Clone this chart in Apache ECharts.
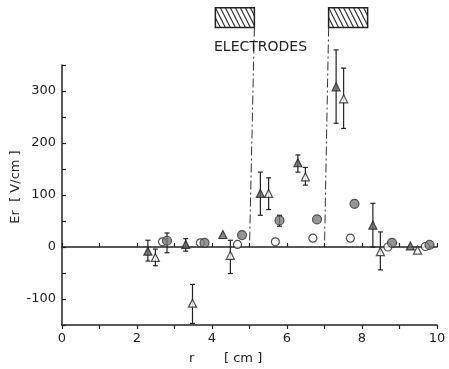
<!DOCTYPE html>
<html>
<head>
<meta charset="utf-8">
<style>
  html, body { margin: 0; padding: 0; background: #fff; }
  #chart { width: 449px; height: 369px; }
</style>
<script src="https://cdn.jsdelivr.net/npm/echarts@6/dist/echarts.min.js"></script>
</head>
<body>
<div id="chart"></div>
<script>
// r [cm], Er [V/cm]
const triFilled = [[2.29, -8], [3.30, 5], [4.29, 24], [5.29, 103], [6.29, 162], [7.31, 308], [8.29, 42], [9.29, 2]];
const triOpen = [[2.49, -20], [3.48, -108], [4.49, -16], [5.51, 103], [6.49, 135], [7.51, 285], [8.49, -9], [9.48, -6]];
const dotFilled = [[2.8, 12], [3.8, 8], [4.8, 23], [5.8, 51], [6.8, 53], [7.8, 83], [8.8, 8], [9.8, 4]];
const dotOpen = [[2.68, 10], [3.69, 8], [4.68, 5], [5.69, 10], [6.69, 17], [7.69, 17], [8.69, 0], [9.69, 1]];
// error bars: r, low, high
const errBars = [
  [2.29, -27, 13], [2.49, -36, -4], [2.8, -11, 27], [3.30, -8, 16], [3.48, -147, -72],
  [4.49, -51, 13], [5.29, 61, 144], [5.51, 72, 133], [5.8, 40, 61], [6.29, 144, 177],
  [6.49, 119, 153], [7.31, 238, 379], [7.51, 228, 344], [8.29, 0, 84], [8.49, -44, 29]
];
// electrodes: box left, box right, line top r, line bottom r
const electrodes = [[4.09, 5.13, 5.13, 5.0], [7.11, 8.15, 7.11, 7.0]];
const electrodeY = [422, 460]; // box bottom / top, above the axis range

const font = 'DejaVu Sans';
const ink = '#222';

const chart = echarts.init(document.getElementById('chart'));

const zeroAxis = (inside) => ({
  type: 'value', min: 0, max: 10, interval: 1, position: 'bottom',
  axisLine: { onZero: true, lineStyle: { color: ink, width: 1.5 } },
  axisTick: { inside: inside, length: 4, lineStyle: { color: ink, width: 1.2 } },
  axisLabel: { show: false },
  splitLine: { show: false }
});

const option = {
  animation: false,
  grid: { left: 62, right: 12, top: 65, bottom: 44 },
  xAxis: [
    {
      type: 'value', min: 0, max: 10, interval: 2, position: 'bottom',
      axisLine: { show: false, onZero: false },
      axisTick: { show: false },
      splitLine: { show: false },
      axisLabel: { fontFamily: font, fontSize: 13, color: ink, margin: 7 }
    },
    zeroAxis(true),
    zeroAxis(false)
  ],
  yAxis: {
    type: 'value', min: -150, max: 350, interval: 50,
    axisLine: { onZero: false, lineStyle: { color: ink, width: 1.5 } },
    axisTick: { inside: true, length: 4, lineStyle: { color: ink, width: 1.2 } },
    splitLine: { show: false },
    axisLabel: {
      fontFamily: font, fontSize: 13, color: ink, margin: 6,
      formatter: v => (v % 100 === 0 ? String(v) : '')
    }
  },
  series: [
    {
      type: 'custom',
      data: errBars,
      encode: { x: 0, y: [1, 2] },
      z: 1,
      renderItem: (params, api) => {
        const x = api.value(0);
        const lo = api.coord([x, api.value(1)]);
        const hi = api.coord([x, api.value(2)]);
        const w = 2.5;
        const st = { stroke: ink, lineWidth: 1.2 };
        return {
          type: 'group',
          children: [
            { type: 'line', shape: { x1: lo[0], y1: lo[1], x2: hi[0], y2: hi[1] }, style: st },
            { type: 'line', shape: { x1: lo[0] - w, y1: lo[1], x2: lo[0] + w, y2: lo[1] }, style: st },
            { type: 'line', shape: { x1: hi[0] - w, y1: hi[1], x2: hi[0] + w, y2: hi[1] }, style: st }
          ]
        };
      }
    },
    {
      type: 'scatter', data: dotOpen, symbol: 'circle', symbolSize: 8, z: 3,
      itemStyle: { color: '#fff', borderColor: ink, borderWidth: 1.2 }
    },
    {
      type: 'scatter', data: dotFilled, symbol: 'circle', symbolSize: 9, z: 3,
      itemStyle: { color: '#7a7a7a', borderColor: '#333', borderWidth: 1.2 }
    },
    {
      type: 'scatter', data: triOpen, symbol: 'triangle', symbolSize: 8, z: 3,
      itemStyle: { color: '#fff', borderColor: ink, borderWidth: 1.2 }
    },
    {
      type: 'scatter', data: triFilled, symbol: 'triangle', symbolSize: 8, z: 3,
      itemStyle: { color: '#666', borderColor: ink, borderWidth: 1.2 }
    }
  ]
};

chart.setOption(option);

// electrode boxes, hatching and dash-dot lines
const graphics = [];
electrodes.forEach(e => {
  const tl = chart.convertToPixel({ gridIndex: 0 }, [e[0], electrodeY[1]]);
  const br = chart.convertToPixel({ gridIndex: 0 }, [e[1], electrodeY[0]]);
  const lt = chart.convertToPixel({ gridIndex: 0 }, [e[2], electrodeY[0]]);
  const lb = chart.convertToPixel({ gridIndex: 0 }, [e[3], 0]);
  const x0 = tl[0], y0 = tl[1], x1 = br[0], y1 = br[1];
  const dx = 10, step = 5;
  for (let a = x0 - dx; a < x1; a += step) {
    const t0 = Math.max(0, (x0 - a) / dx), t1 = Math.min(1, (x1 - a) / dx);
    if (t1 <= t0) continue;
    graphics.push({
      type: 'line',
      shape: { x1: a + t0 * dx, y1: y0 + t0 * (y1 - y0), x2: a + t1 * dx, y2: y0 + t1 * (y1 - y0) },
      style: { stroke: '#333', lineWidth: 1.2 }
    });
  }
  graphics.push({
    type: 'rect',
    shape: { x: x0, y: y0, width: x1 - x0, height: y1 - y0 },
    style: { fill: 'none', stroke: ink, lineWidth: 1.5 }
  });
  graphics.push({
    type: 'line',
    shape: { x1: lt[0], y1: lt[1], x2: lb[0], y2: lb[1] },
    style: { stroke: '#333', lineWidth: 1, lineDash: [9, 3, 2, 3] }
  });
});

graphics.push(
  { type: 'text', x: 214, y: 47, style: { text: 'ELECTRODES', fontFamily: font, fontSize: 14, fill: ink, verticalAlign: 'middle' } },
  { type: 'text', x: 16, y: 187, rotation: Math.PI / 2, style: { text: 'Er  [ V/cm ]', fontFamily: font, fontSize: 13, fill: ink, align: 'center', verticalAlign: 'middle' } },
  { type: 'text', x: 189, y: 359, style: { text: 'r', fontFamily: font, fontSize: 13, fill: ink, verticalAlign: 'middle' } },
  { type: 'text', x: 224, y: 359, style: { text: '[ cm ]', fontFamily: font, fontSize: 13, fill: ink, verticalAlign: 'middle' } }
);

chart.setOption({ graphic: graphics });
</script>
</body>
</html>
